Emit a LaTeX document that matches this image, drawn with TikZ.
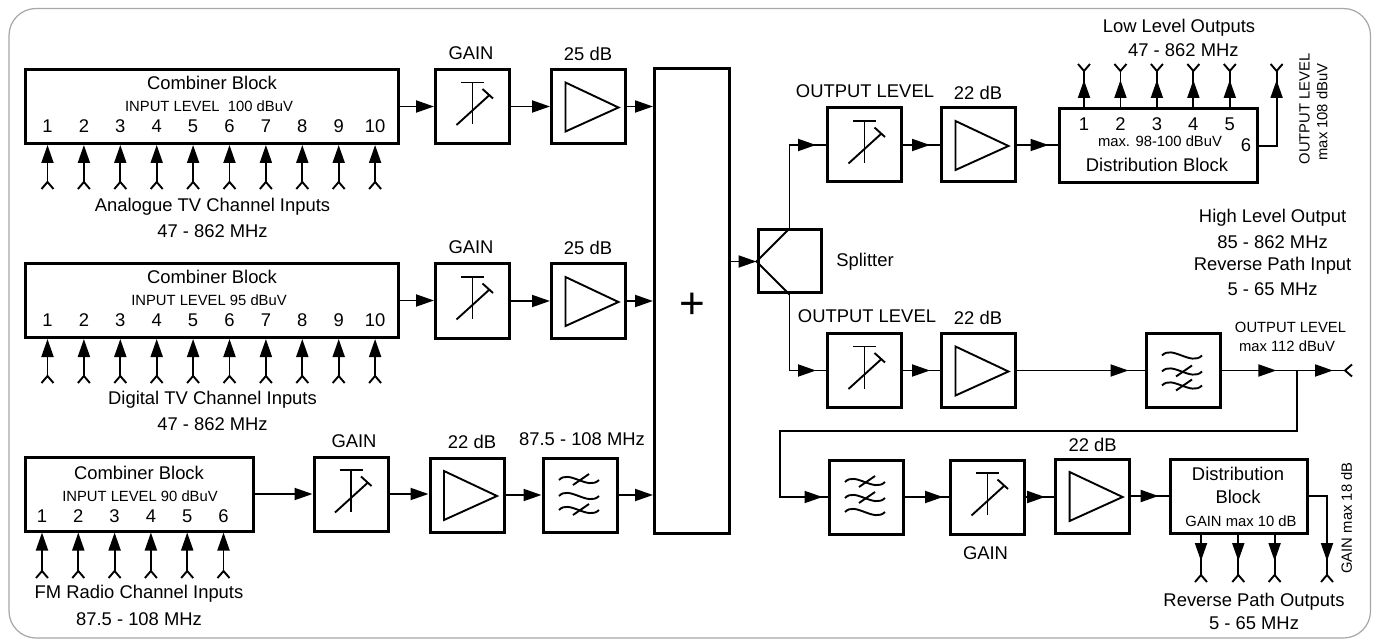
\documentclass[tikz,border=0pt]{standalone}
\usepackage{fontspec}
\setmainfont{Liberation Sans}
\usetikzlibrary{arrows.meta,decorations.markings}

\tikzset{
	blockbox/.style={draw, line width=3pt, inner sep=0pt, minimum width=74pt, minimum height=74pt},
	wire/.style={line width=1.9pt},
	sig/.style={wire, -{Triangle[length=18pt,width=12pt]}},
	headat/.style={wire, postaction={decorate}, decoration={markings, mark=at position #1 with {\arrow{Triangle[length=18pt,width=12pt]}}}},
	lab/.style={inner sep=0pt, font=\fontsize{18.4}{20}\selectfont},
	smalllab/.style={inner sep=0pt, font=\fontsize{14.8}{16}\selectfont},
	sym/.style={line width=1.9pt}
}

% symbols drawn on the centre of a block
\newcommand{\attsym}[1]{
	\begin{scope}[shift={(#1.center)}]
		\draw[sym] (0,-24) -- (0,18) (-11.5,-24) -- (11.5,-24);
		\draw[sym] (-16,18.5) -- (17,-11.5) (10,-17.5) -- (20.5,-8);
	\end{scope}
}
\newcommand{\ampsym}[1]{
	\begin{scope}[shift={(#1.center)}]
		\draw[sym] (-23,-24) -- (30,1) -- (-23,25) -- cycle;
	\end{scope}
}
\newcommand{\wavesym}[3]{
	\begin{scope}[shift={(#1.center)}]
		\foreach \yy in {-15,1,15}
			\draw[sym] (-21,\yy) .. controls (-11,\yy-11) and (8,\yy+11) .. (19,\yy);
		\draw[sym] (-7,#2+5) -- (9,#2-6) (-7,#3+5) -- (9,#3-6);
	\end{scope}
}
% fork ends of the feed lines
\newcommand{\forkdown}[1]{\draw[wire] (#1) -- ++(-6,7) (#1) -- ++(6,7);}
\newcommand{\forkup}[1]{\draw[wire] (#1) -- ++(-6,-7) (#1) -- ++(6,-7);}

\begin{document}
\begin{tikzpicture}[x=1pt,y=-1pt]
	\useasboundingbox (0,0) rectangle (1377,639);
	\draw[line width=1.2pt, gray!70, rounded corners=27pt] (9,8.5) rectangle (1370.5,638);

	% analogue row
	\node[blockbox, minimum width=373pt] (combinera) at (211.5,106.5) {};
	\node[lab] (combineratitle) at (212,83) {Combiner Block};
	\node[smalllab] (combineralevel) at (209,106) {INPUT LEVEL\ \ 100 dBuV};
	\foreach \i in {1,...,10} {
		\node[lab] (ana\i) at ({47.5+36.4*(\i-1)},126) {\i};
		\coordinate (anafork\i) at ({47.5+36.4*(\i-1)},182);
		\draw[sig] (anafork\i) -- (anafork\i |- combinera.south);
		\forkdown{anafork\i}
	}
	\node[lab] (analabel) at (212.5,207) {Analogue TV Channel Inputs};
	\node[lab] (anaband) at (212.5,231) {47 - 862 MHz};
	\node[blockbox] (gaina) at (472.5,106.5) {};
	\node[lab] (gainalabel) at (471,53) {GAIN};
	\attsym{gaina}
	\node[blockbox] (ampa) at (588.5,106.5) {};
	\node[lab] (ampalabel) at (588,54) {25 dB};
	\ampsym{ampa}

	% digital row
	\node[blockbox, minimum width=373pt] (combinerb) at (211.5,300.5) {};
	\node[lab] (combinerbtitle) at (212,277) {Combiner Block};
	\node[smalllab] (combinerblevel) at (209,300) {INPUT LEVEL 95 dBuV};
	\foreach \i in {1,...,10} {
		\node[lab] (dig\i) at ({47.5+36.4*(\i-1)},320) {\i};
		\coordinate (digfork\i) at ({47.5+36.4*(\i-1)},376);
		\draw[sig] (digfork\i) -- (digfork\i |- combinerb.south);
		\forkdown{digfork\i}
	}
	\node[lab] (diglabel) at (212.5,400) {Digital TV Channel Inputs};
	\node[lab] (digband) at (212.5,424) {47 - 862 MHz};
	\node[blockbox] (gainb) at (472.5,301) {};
	\node[lab] (gainblabel) at (471,247) {GAIN};
	\attsym{gainb}
	\node[blockbox] (ampb) at (588.5,301) {};
	\node[lab] (ampblabel) at (588,248) {25 dB};
	\ampsym{ampb}

	% fm row
	\node[blockbox, minimum width=228pt] (combinerc) at (139,494) {};
	\node[lab] (combinerctitle) at (139,473) {Combiner Block};
	\node[smalllab] (combinerclevel) at (140,496) {INPUT LEVEL 90 dBuV};
	\foreach \i in {1,...,6} {
		\node[lab] (fm\i) at ({42+36.3*(\i-1)},516) {\i};
		\coordinate (fmfork\i) at ({42+36.3*(\i-1)},571);
		\draw[sig] (fmfork\i) -- (fmfork\i |- combinerc.south);
		\forkdown{fmfork\i}
	}
	\node[lab] (fmlabel) at (139,594) {FM Radio Channel Inputs};
	\node[lab] (fmband) at (139,619) {87.5 - 108 MHz};
	\node[blockbox] (gainc) at (351,494) {};
	\node[lab] (gainclabel) at (354,441) {GAIN};
	\attsym{gainc}
	\node[blockbox] (ampc) at (467,495) {};
	\node[lab] (ampclabel) at (472,442) {22 dB};
	\ampsym{ampc}
	\node[blockbox] (filta) at (580,495) {};
	\node[lab] (filtalabel) at (582,439) {87.5 - 108 MHz};
	\wavesym{filta}{-15}{15}

	% summing block
	\node[blockbox, minimum width=75pt, minimum height=464pt] (sum) at (692,301) {};
	\node[inner sep=0pt, font=\fontsize{44}{46}\selectfont] (sumsign) at (692,306) {+};

	\draw[sig] (combinera.east) -- (gaina.west);
	\draw[sig] (gaina.east) -- (ampa.west);
	\draw[sig] (ampa.east) -- (ampa.east -| sum.west);
	\draw[sig] (combinerb.east) -- (combinerb.east -| gainb.west);
	\draw[sig] (gainb.east) -- (ampb.west);
	\draw[sig] (ampb.east) -- (ampb.east -| sum.west);
	\draw[sig] (combinerc.east) -- (gainc.west);
	\draw[sig] (gainc.east) -- (gainc.east -| ampc.west);
	\draw[sig] (ampc.east) -- (filta.west);
	\draw[sig] (filta.east) -- (filta.east -| sum.west);

	% splitter
	\node[blockbox, minimum width=63pt, minimum height=63pt] (splitter) at (789.5,261.5) {};
	\node[lab] (splitterlabel) at (865,262) {Splitter};
	\coordinate (splitup) at (splitter.north);
	\coordinate (splitdown) at (splitter.south);
	\draw[sym] (splitup) -- (splitter.west) -- (splitdown);
	\draw[sig] (sum.east |- splitter.west) -- (splitter.west);

	% low level branch
	\node[blockbox] (gaind) at (864.5,145) {};
	\node[lab] (gaindlabel) at (865,91) {OUTPUT LEVEL};
	\attsym{gaind}
	\node[blockbox] (ampd) at (978.5,145) {};
	\node[lab] (ampdlabel) at (978,93) {22 dB};
	\ampsym{ampd}
	\node[blockbox, minimum width=198pt] (dista) at (1158,146) {};
	\node[smalllab] (distalevel) at (1160,141) {max. 98-100 dBuV};
	\node[lab] (distatitle) at (1157,165) {Distribution Block};
	\foreach \i in {1,...,5} {
		\node[lab] (low\i) at ({1084+36.45*(\i-1)},124) {\i};
		\coordinate (lowfork\i) at ({1084+36.45*(\i-1)},71);
		\coordinate (lowtip\i) at ({1084+36.45*(\i-1)},80);
		\draw[sig] (low\i |- dista.north) -- (lowtip\i);
		\draw[wire] (lowfork\i) -- ++(0,16);
		\forkup{lowfork\i}
	}
	\node[lab] (low6) at (1246,145) {6};
	\coordinate (lowfork6) at (1276.6,71);
	\coordinate (lowtip6) at (1276.6,80);
	\draw[wire] (dista.east) -| (lowfork6);
	\draw[sig] (dista.east -| lowfork6) -- (lowtip6);
	\forkup{lowfork6}
	\node[lab] (lowlabel) at (1179,28) {Low Level Outputs};
	\node[lab] (lowband) at (1183.4,50) {47 - 862 MHz};
	\node[smalllab, rotate=90] (lowlevel) at (1304.4,109) {OUTPUT LEVEL};
	\node[smalllab, rotate=90] (lowmax) at (1322,112) {max 108 dBuV};
	\draw[headat=-10pt] (splitup) |- (gaind.west);
	\draw[headat=-10pt] (gaind.east) -- (ampd.west);
	\draw[headat=-9pt] (ampd.east) -- (ampd.east -| dista.west);

	\node[lab] (highlabel) at (1272.6,218) {High Level Output};
	\node[lab] (highband) at (1272.6,242) {85 - 862 MHz};
	\node[lab] (revinlabel) at (1272.6,266) {Reverse Path Input};
	\node[lab] (revinband) at (1272.6,289) {5 - 65 MHz};

	% high level branch
	\node[blockbox] (gaine) at (864.5,370.5) {};
	\node[lab] (gainelabel) at (867,316) {OUTPUT LEVEL};
	\attsym{gaine}
	\node[blockbox] (ampe) at (978.5,370.5) {};
	\node[lab] (ampelabel) at (978,318) {22 dB};
	\ampsym{ampe}
	\node[blockbox] (filtb) at (1183,370.5) {};
	\wavesym{filtb}{1}{15}
	\node[smalllab] (highlevel) at (1290.5,327) {OUTPUT LEVEL};
	\node[smalllab] (highmax) at (1287,346) {max 112 dBuV};
	\coordinate (junction) at (1297.4,370.5);
	\coordinate (forkright) at (1345,370.5);
	\coordinate (turna) at (1297.4,431);
	\coordinate (turnb) at (779.7,431);
	\draw[headat=-10pt] (splitdown) |- (gaine.west);
	\draw[headat=-10pt] (gaine.east) -- (ampe.west);
	\draw[headat=-16pt] (ampe.east) -- (filtb.west);
	\draw[headat=-21pt] (filtb.east) -- (junction);
	\draw[headat=-12pt] (junction) -- (forkright);
	\draw[wire] (forkright) -- ++(7,-6) (forkright) -- ++(7,6);

	% reverse path
	\node[blockbox] (filtc) at (866,497) {};
	\wavesym{filtc}{-15}{1}
	\node[blockbox] (gainf) at (987.5,497) {};
	\node[lab] (gainflabel) at (985.5,553) {GAIN};
	\attsym{gainf}
	\node[blockbox] (ampf) at (1092.6,496) {};
	\node[lab] (ampflabel) at (1092.6,445) {22 dB};
	\ampsym{ampf}
	\node[blockbox, minimum width=137pt] (distb) at (1238.6,496) {};
	\node[lab] (distbtitle) at (1238,474) {Distribution};
	\node[lab] (distbtitleb) at (1238,497) {Block};
	\node[smalllab] (distblevel) at (1241,521) {GAIN max 10 dB};
	\foreach \i/\x in {1/1201,2/1238.3,3/1274.6} {
		\coordinate (revfork\i) at (\x,575);
		\draw[sig] (\x,534) -- (\x,561);
		\draw[wire] (\x,556) -- (revfork\i);
		\forkdown{revfork\i}
	}
	\coordinate (revfork4) at (1327,575);
	\draw[wire] (distb.east) -| (revfork4);
	\draw[sig] (1327,520) -- (1327,561);
	\forkdown{revfork4}
	\node[smalllab, rotate=90] (revgain) at (1346.5,518) {GAIN max 18 dB};
	\node[lab] (revlabel) at (1254,602) {Reverse Path Outputs};
	\node[lab] (revband) at (1254,623) {5 - 65 MHz};
	\draw[headat=-5pt] (junction) -- (turna) -- (turnb) |- (filtc.west);
	\draw[headat=-6pt] (filtc.east) -- (gainf.west);
	\draw[headat=-9pt] (gainf.east) -- (gainf.east -| ampf.west);
	\draw[headat=-10pt] (ampf.east) -- (distb.west);
\end{tikzpicture}
\end{document}
